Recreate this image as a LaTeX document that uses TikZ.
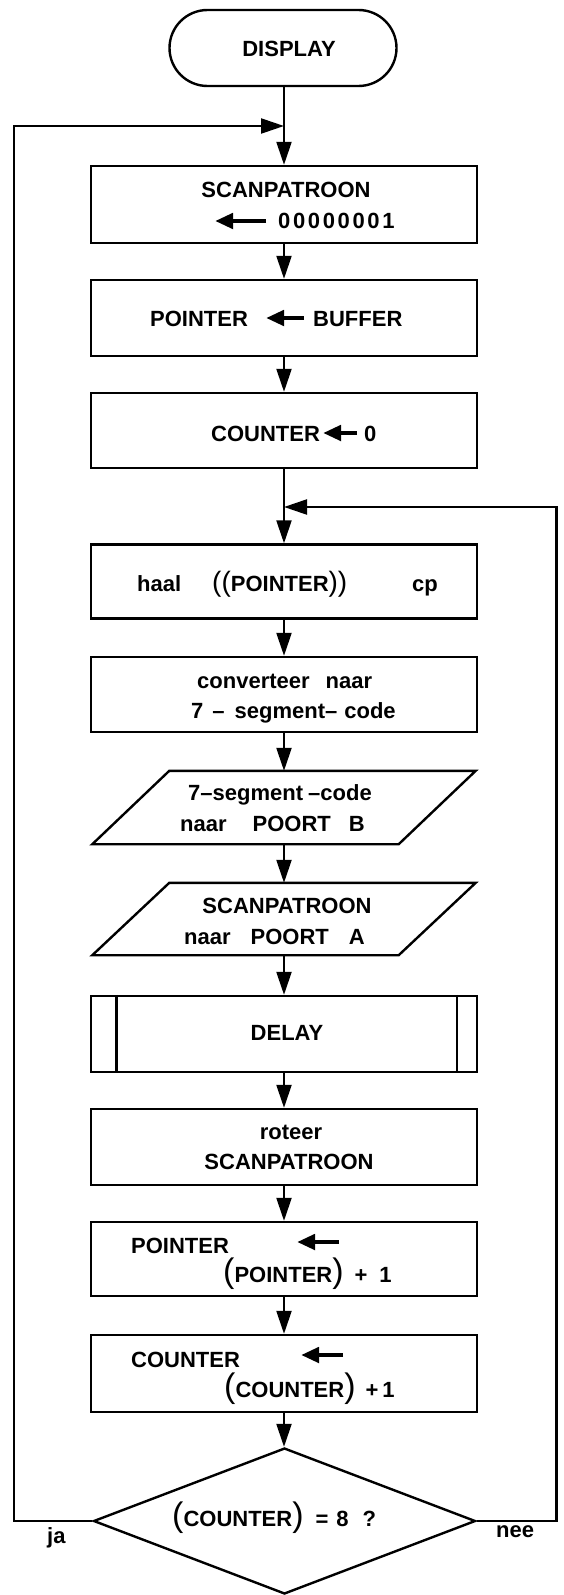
\documentclass[tikz,border=0pt]{standalone}
\usepackage{fontspec}
\setmainfont{Liberation Sans}
\usetikzlibrary{arrows.meta,shapes.geometric}

% tall, light parentheses used around register names
\newcommand\tallparen[2][34]{{\fontsize{#1}{#1}\selectfont\mdseries #2}}

\begin{document}
\begin{tikzpicture}[x=1pt,y=-1pt,
  every node/.style={font=\bfseries\fontsize{22}{26}\selectfont, inner sep=0pt},
  frame/.style={draw, line width=2.4pt, rectangle, minimum width=386pt},
  flow/.style={line width=2.2pt, -{Triangle[length=23pt,width=15pt]}},
  assign/.style={line width=4.5pt, -{Triangle[length=18pt,width=15pt]}},
  txt/.style={anchor=base},
  txtw/.style={anchor=base west}]

\fill[white] (0,0) rectangle (563,1595);
\useasboundingbox (0,0) rectangle (563,1595);

% ---- shapes ----
\node[draw, line width=2.4pt, rounded corners=38pt, minimum width=227pt, minimum height=76pt] (disp) at (283,48) {};
\node[frame, minimum height=77pt] (b1) at (284,204.5) {};
\node[frame, minimum height=76pt] (b2) at (284,318) {};
\node[frame, minimum height=75pt] (b3) at (284,430.5) {};
\node[frame, minimum height=74pt] (b4) at (284,581.5) {};
\node[frame, minimum height=75pt] (b5) at (284,694.5) {};
\node[minimum width=306pt, minimum height=73pt] (p1) at (284,807.5) {};
\node[minimum width=306pt, minimum height=72pt] (p2) at (284,919) {};
\node[frame, minimum height=76pt] (b6) at (284,1034) {};
\node[frame, minimum height=76pt] (b7) at (284,1147) {};
\node[frame, minimum height=74pt] (b8) at (284,1259) {};
\node[frame, minimum height=77pt] (b9) at (284,1373.5) {};
\node[diamond, draw, line width=2.4pt, minimum width=382pt, minimum height=146pt, aspect=2.6] (dia) at (284.5,1521) {};

% input/output parallelograms
\draw[line width=2.4pt, line join=miter]
  ([xshift=-38.5pt]p1.south west) -- ([xshift=38.5pt]p1.north west) --
  ([xshift=38.5pt]p1.north east) -- ([xshift=-38.5pt]p1.south east) -- cycle;
\draw[line width=2.4pt, line join=miter]
  ([xshift=-38.5pt]p2.south west) -- ([xshift=38.5pt]p2.north west) --
  ([xshift=38.5pt]p2.north east) -- ([xshift=-38.5pt]p2.south east) -- cycle;

% subroutine bars
\draw[line width=2.4pt] ([xshift=26.5pt]b6.north west) -- ([xshift=26.5pt]b6.south west);
\draw[line width=2.4pt] ([xshift=-21.5pt]b6.north east) -- ([xshift=-21.5pt]b6.south east);

% ---- texts ----
\node[txt] (tdisp) at (289,57) {DISPLAY};

\node[txt] (t1a) at (286,197) {SCANPATROON};
\node[txtw] (t1b) at (278,228) {\addfontfeature{LetterSpace=12}00000001};
\coordinate (a1s) at (266,221); \coordinate (a1e) at (215,221);
\draw[assign] (a1s) -- (a1e);

\node[txtw] (t2a) at (150,326) {POINTER};
\node[txtw] (t2b) at (313,326) {BUFFER};
\coordinate (a2s) at (304,318); \coordinate (a2e) at (266,318);
\draw[assign] (a2s) -- (a2e);

\node[txtw] (t3a) at (211,441) {COUNTER};
\node[txtw] (t3b) at (364,441) {0};
\coordinate (a3s) at (357,433); \coordinate (a3e) at (323,433);
\draw[assign] (a3s) -- (a3e);

\node[txtw] (t4a) at (137,591) {haal};
\node[txtw] (t4b) at (212,591) {\tallparen[28]{((}POINTER\tallparen[28]{))}};
\node[txtw] (t4c) at (412,591) {cp};

\node[txtw] (t5a) at (197,688) {converteer\hspace{16pt}naar};
\node[txtw] (t5b) at (191,718) {7\hspace{9pt}–\hspace{10pt}segment–\hspace{7pt}code};

\node[txt] (t6a) at (280,800) {7–segment\hspace{5pt}–code};
\node[txtw] (t6b) at (180,831) {naar\hspace{26pt}POORT\hspace{18pt}B};

\node[txt] (t7a) at (287,913) {SCANPATROON};
\node[txtw] (t7b) at (184,944) {naar\hspace{20pt}POORT\hspace{20pt}A};

\node[txt] (t8) at (287,1040) {DELAY};

\node[txt] (t9a) at (291,1139) {roteer};
\node[txt] (t9b) at (289,1169) {SCANPATROON};

\node[txtw] (t10a) at (131,1253) {POINTER};
\node[txtw] (t10b) at (223,1282) {\tallparen{(}POINTER\tallparen{)}\hspace{11pt}+\hspace{12pt}1};
\coordinate (a10s) at (339,1242); \coordinate (a10e) at (297,1242);
\draw[assign] (a10s) -- (a10e);

\node[txtw] (t11a) at (131,1367) {COUNTER};
\node[txtw] (t11b) at (224,1397) {\tallparen{(}COUNTER\tallparen{)}\hspace{10pt}+\hspace{4pt}1};
\coordinate (a11s) at (343,1355); \coordinate (a11e) at (301,1355);
\draw[assign] (a11s) -- (a11e);

\node[txtw] (t12) at (172,1526) {\tallparen{(}COUNTER\tallparen{)}\hspace{12pt}=\hspace{8pt}8\hspace{14pt}?};

\node[txtw] (tja) at (47,1543) {ja};
\node[txtw] (tnee) at (496,1537) {nee};

% ---- connectors ----
\draw[flow] (disp.south -| b1.north) -- (b1.north);
\draw[flow] (b1.south) -- (b2.north);
\draw[flow] (b2.south) -- (b3.north);
\draw[flow] (b3.south) -- (b4.north);
\draw[flow] (b4.south) -- (b5.north);
\draw[flow] (b5.south) -- (p1.north);
\draw[flow] (p1.south) -- (p2.north);
\draw[flow] (p2.south) -- (b6.north);
\draw[flow] (b6.south) -- (b7.north);
\draw[flow] (b7.south) -- (b8.north);
\draw[flow] (b8.south) -- (b9.north);
\draw[flow] (b9.south) -- (dia.north -| b9.south);

% yes: back to the start of the scan
\coordinate (jaL) at (14,1521);
\coordinate (jaT) at (14,126);
\coordinate (jaM) at (284,126);
\draw[flow, line join=miter] (dia.west) -- (jaL) -- (jaT) -- (jaM);

% no: next digit
\coordinate (neeR) at (556.5,1521);
\coordinate (neeT) at (556.5,507);
\coordinate (neeM) at (284,507);
\draw[flow, line join=miter] (dia.east) -- (neeR) -- (neeT) -- (neeM);
\end{tikzpicture}
\end{document}
